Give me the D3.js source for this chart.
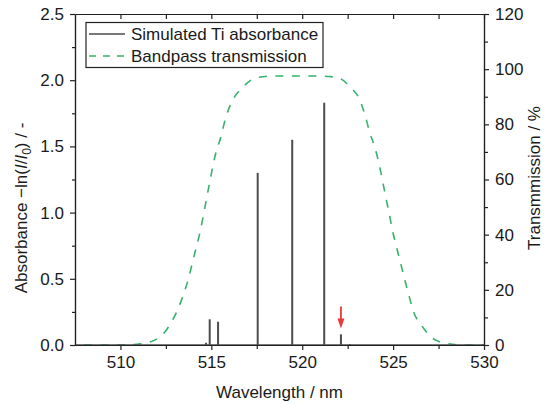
<!DOCTYPE html>
<html>
<head>
<meta charset="utf-8">
<script src="https://cdn.jsdelivr.net/npm/d3@7"></script>
<style>
body { margin: 0; background: #fff; }
text { font-family: "Liberation Sans", Arial, sans-serif; }
</style>
</head>
<body>
<script>
// simulated Ti absorption lines (nm, -ln(I/I0))
const peakWl = [514.71, 514.91, 515.37, 517.55, 519.45, 521.21, 522.13, 522.62];
const peakAbs = [0.017, 0.194, 0.176, 1.30, 1.55, 1.83, 0.081, 0.006];

// bandpass filter transmission (nm, %)
const transWl = [508.0, 509.5, 510.5, 511.08, 512.02, 512.68, 513.34, 513.72, 514.05, 514.38, 514.65, 514.90,
    515.18, 515.53, 515.81, 516.16, 516.71, 517.40, 518.28, 519.87, 520.97, 521.91, 522.65, 523.17, 523.47,
    523.70, 524.01, 524.24, 524.41, 524.60, 524.79, 524.96, 525.18, 525.40, 525.62, 525.85, 526.10, 526.58,
    527.16, 528.01, 528.88, 530.0];
const transPct = [0, 0, 0.1, 0.4, 2.2, 6.9, 16, 23.6, 32.3, 41, 50, 58.7,
    67.8, 75.6, 82.8, 88.6, 93.3, 96.7, 97.5, 97.5, 97.5, 97.0, 93.5, 88.8, 83,
    77.4, 71.3, 65.3, 59.8, 53.5, 47.5, 41.7, 35.7, 30, 24.2, 18.5, 12.5, 7,
    2.5, 0.5, 0, 0];

const xTicks = [510, 515, 520, 525, 530];
const xMinor = [512.5, 517.5, 522.5, 527.5];
const absTicks = [0, 0.5, 1.0, 1.5, 2.0, 2.5];
const absMinor = [0.25, 0.75, 1.25, 1.75, 2.25];
const transTicks = [0, 20, 40, 60, 80, 100, 120];
const transMinor = [10, 30, 50, 70, 90, 110];
const legendLabels = ["Simulated Ti absorbance", "Bandpass transmission"];

// red arrow marking the weak line
const arrowWl = 522.13, arrowFrom = 0.29, arrowTo = 0.125;

const width = 545, height = 404;
const margin = {top: 14, right: 61, bottom: 59, left: 75};
const grey = "#4d4d4d", green = "#36b26c";

const svg = d3.select("body").append("svg")
    .attr("width", width)
    .attr("height", height);

const x = d3.scaleLinear().domain([507.5, 530]).range([margin.left, width - margin.right]);
const yA = d3.scaleLinear().domain([0, 2.5]).range([height - margin.bottom, margin.top]);
const yT = d3.scaleLinear().domain([0, 120]).range([height - margin.bottom, margin.top]);

svg.append("clipPath").attr("id", "clip")
    .append("rect")
    .attr("x", margin.left).attr("y", margin.top - 2)
    .attr("width", width - margin.left - margin.right)
    .attr("height", height - margin.top - margin.bottom + 4);

const plot = svg.append("g").attr("clip-path", "url(#clip)");

// transmission curve
const trans = transWl.map((w, i) => [w, transPct[i]]);
plot.append("path")
    .datum(trans)
    .attr("fill", "none")
    .attr("stroke", green)
    .attr("stroke-width", 1.6)
    .attr("stroke-dasharray", "8,8.5")
    .attr("d", d3.line().x(d => x(d[0])).y(d => yT(d[1])).curve(d3.curveMonotoneX));

// absorbance baseline + lines
plot.append("line")
    .attr("x1", x(507.5)).attr("x2", x(530))
    .attr("y1", yA(0)).attr("y2", yA(0))
    .attr("stroke", grey).attr("stroke-width", 1.5);

plot.selectAll(".peak")
    .data(peakWl)
    .enter()
    .append("line")
    .attr("class", "peak")
    .attr("x1", d => x(d)).attr("x2", d => x(d))
    .attr("y1", yA(0))
    .attr("y2", (d, i) => yA(peakAbs[i]))
    .attr("stroke", grey)
    .attr("stroke-width", 2);

// arrow
const ax = x(arrowWl), aTip = yA(arrowTo);
svg.append("line")
    .attr("x1", ax).attr("x2", ax)
    .attr("y1", yA(arrowFrom)).attr("y2", aTip - 8)
    .attr("stroke", "#ea3a3a").attr("stroke-width", 1.8);
svg.append("path")
    .attr("d", "M" + (ax - 3.5) + "," + (aTip - 10) + "L" + (ax + 3.5) + "," + (aTip - 10) + "L" + ax + "," + aTip + "Z")
    .attr("fill", "#ea3a3a");

// axes
function styleAxis(g) {
    g.selectAll(".domain").attr("stroke", "#222").attr("stroke-width", 1.2);
    g.selectAll(".tick line").attr("stroke", "#222").attr("stroke-width", 1.2);
    g.selectAll("text").attr("font-size", "17px").attr("fill", "#1a1a1a")
        .attr("font-family", "'Liberation Sans', Arial, sans-serif");
}

const bottom = height - margin.bottom, right = width - margin.right;

svg.append("g").attr("transform", "translate(0," + bottom + ")")
    .call(d3.axisBottom(x).tickValues(xMinor).tickSize(4).tickFormat("").tickSizeOuter(0))
    .call(styleAxis);
svg.append("g").attr("transform", "translate(0," + bottom + ")")
    .call(d3.axisBottom(x).tickValues(xTicks).tickSize(5).tickPadding(6).tickFormat(d3.format("d")).tickSizeOuter(0))
    .call(styleAxis);

svg.append("g").attr("transform", "translate(0," + margin.top + ")")
    .call(d3.axisBottom(x).tickValues(xTicks.concat(xMinor)).tickSize(5).tickFormat("").tickSizeOuter(0))
    .call(styleAxis);

svg.append("g").attr("transform", "translate(" + margin.left + ",0)")
    .call(d3.axisLeft(yA).tickValues(absMinor).tickSize(3).tickFormat("").tickSizeOuter(0))
    .call(styleAxis);
svg.append("g").attr("transform", "translate(" + margin.left + ",0)")
    .call(d3.axisLeft(yA).tickValues(absTicks).tickSize(5).tickPadding(6).tickFormat(d3.format(".1f")).tickSizeOuter(0))
    .call(styleAxis);

svg.append("g").attr("transform", "translate(" + right + ",0)")
    .call(d3.axisRight(yT).tickValues(transMinor).tickSize(4).tickFormat("").tickSizeOuter(0))
    .call(styleAxis);
svg.append("g").attr("transform", "translate(" + right + ",0)")
    .call(d3.axisRight(yT).tickValues(transTicks).tickSize(5).tickPadding(6).tickFormat(d3.format("d")).tickSizeOuter(0))
    .call(styleAxis);

// axis titles
svg.append("text")
    .attr("x", (margin.left + right) / 2).attr("y", 398)
    .attr("text-anchor", "middle").attr("font-size", "17px").attr("fill", "#1a1a1a")
    .text("Wavelength / nm");

const yTitle = svg.append("text")
    .attr("transform", "translate(27,208) rotate(-90)")
    .attr("text-anchor", "middle").attr("font-size", "17px").attr("fill", "#1a1a1a");
yTitle.append("tspan").text("Absorbance \u2212ln(");
yTitle.append("tspan").attr("font-style", "italic").text("I");
yTitle.append("tspan").text("/");
yTitle.append("tspan").attr("font-style", "italic").text("I");
yTitle.append("tspan").attr("font-size", "12px").attr("dy", 4).text("0");
yTitle.append("tspan").attr("dy", -4).text(") / -");

svg.append("text")
    .attr("transform", "translate(540,178) rotate(-90)")
    .attr("text-anchor", "middle").attr("font-size", "17px").attr("fill", "#1a1a1a")
    .text("Transmmission / %");

// legend
const legend = svg.append("g");
legend.append("rect")
    .attr("x", 86).attr("y", 22.5).attr("width", 237).attr("height", 45)
    .attr("fill", "#fff").attr("stroke", "#222").attr("stroke-width", 1.2);
legend.selectAll(".row")
    .data(legendLabels)
    .enter()
    .append("g")
    .attr("transform", (d, i) => "translate(0," + (34 + i * 22) + ")")
    .each(function (d, i) {
        const g = d3.select(this);
        g.append("line")
            .attr("x1", 89).attr("x2", 125)
            .attr("stroke", i == 0 ? grey : green)
            .attr("stroke-width", i == 0 ? 1.5 : 1.6)
            .attr("stroke-dasharray", i == 0 ? null : "7,7");
        g.append("text")
            .attr("x", 131).attr("y", 6)
            .attr("font-size", "17px").attr("fill", "#1a1a1a")
            .text(d);
    });
</script>
</body>
</html>
